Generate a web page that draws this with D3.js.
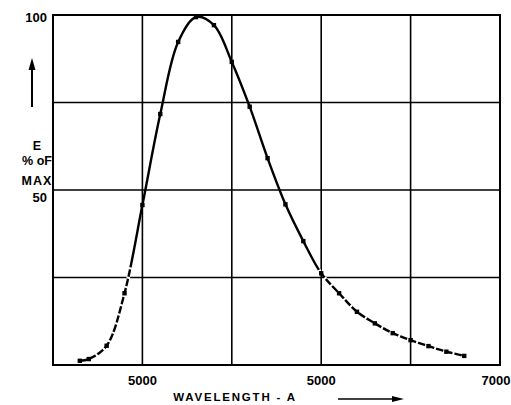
<!doctype html>
<html lang="en">
<head>
<meta charset="utf-8">
<title>E % of max vs wavelength</title>
<script src="https://d3js.org/d3.v7.min.js"></script>
<style>
  body { margin: 0; background: #fff; }
  text { font-family: "Liberation Sans", Arial, sans-serif; font-weight: bold; fill: #000; }
</style>
</head>
<body>
<div id="chart"></div>
<script>
// wavelength (A) and E (% of max)
var wavelength = [4650, 4700, 4800, 4900, 5000, 5100, 5200, 5300, 5400, 5500, 5600, 5700,
                  5800, 5900, 6000, 6100, 6200, 6300, 6400, 6500, 6600, 6700, 6800];
var percentMax = [1.2, 1.7, 5.5, 20.5, 45.7, 71.7, 92.3, 99.4, 97.1, 86.6, 73.8, 59.1,
                  45.9, 35.4, 26.2, 20.5, 15.2, 11.9, 9.1, 7.1, 5.4, 3.8, 2.6];

var xGrid = [5000, 5500, 6000, 6500];
var yGrid = [25, 50, 75];
var xTickValues = [5000, 6000, 7000];
var xTickLabels = ["5000", "5000", "7000"];   // as printed in the original
var yTickValues = [100, 50];
var yTickLabels = ["100", "50"];

var W = 511, H = 405;
var margin = {top: 15, right: 11, bottom: 40, left: 53};

var x = d3.scaleLinear().domain([4500, 7000]).range([margin.left, W - margin.right]);
var y = d3.scaleLinear().domain([0, 100]).range([H - margin.bottom, margin.top]);

var svg = d3.select("#chart").append("svg")
  .attr("width", W).attr("height", H);

// grid
svg.append("g").selectAll("line").data(xGrid).enter().append("line")
  .attr("x1", d => x(d)).attr("x2", d => x(d))
  .attr("y1", y(0)).attr("y2", y(100))
  .attr("stroke", "#000").attr("stroke-width", 1.6);
svg.append("g").selectAll("line").data(yGrid).enter().append("line")
  .attr("x1", x(4500)).attr("x2", x(7000))
  .attr("y1", d => y(d)).attr("y2", d => y(d))
  .attr("stroke", "#000").attr("stroke-width", 1.6);

// frame
svg.append("rect")
  .attr("x", x(4500)).attr("y", y(100))
  .attr("width", x(7000) - x(4500)).attr("height", y(0) - y(100))
  .attr("fill", "none").attr("stroke", "#000").attr("stroke-width", 2);

// tick labels
svg.append("g").selectAll("text").data(xTickValues).enter().append("text")
  .attr("x", d => x(d) + (d === 7000 ? -4 : 0))
  .attr("y", 385)
  .attr("text-anchor", "middle")
  .attr("font-size", 13)
  .text((d, i) => xTickLabels[i]);
svg.append("g").selectAll("text").data(yTickValues).enter().append("text")
  .attr("x", x(4500) - 6)
  .attr("y", d => y(d) + (d === 100 ? 7 : 12))
  .attr("text-anchor", "end")
  .attr("font-size", 13)
  .text((d, i) => yTickLabels[i]);

// y title
var yTitle = ["E", "% oF", "MAX"];
var yTitleY = [150, 165, 185];
svg.append("g").selectAll("text").data(yTitle).enter().append("text")
  .attr("x", 37)
  .attr("y", (d, i) => yTitleY[i])
  .attr("text-anchor", "middle")
  .attr("font-size", (d, i) => i === 1 ? 12.5 : 12.5)
  .attr("letter-spacing", (d, i) => i === 2 ? 1 : 0)
  .text(d => d);

// x title
svg.append("text")
  .attr("x", 235).attr("y", 401)
  .attr("text-anchor", "middle")
  .attr("font-size", 11.5)
  .attr("letter-spacing", 1.8)
  .text("WAVELENGTH - A");

// arrows
svg.append("line").attr("x1", 32).attr("x2", 32).attr("y1", 107).attr("y2", 66)
  .attr("stroke", "#000").attr("stroke-width", 2);
svg.append("path").attr("d", "M32,58 L28.5,70 L35.5,70 Z").attr("fill", "#000");
svg.append("line").attr("x1", 338).attr("x2", 394).attr("y1", 399).attr("y2", 399)
  .attr("stroke", "#000").attr("stroke-width", 1.6);
svg.append("path").attr("d", "M404,399 L392,396 L392,402 Z").attr("fill", "#000");

// curve
var pts = wavelength.map((w, i) => [w, percentMax[i]]);
var line = d3.line()
  .x(d => x(d[0])).y(d => y(d[1]))
  .curve(d3.curveCatmullRom.alpha(0.5));

svg.append("path").datum(pts)
  .attr("d", line)
  .attr("fill", "none").attr("stroke", "#000").attr("stroke-width", 2.4);

// white path that cuts small gaps into the low parts, like the printed dashes
var gaps = svg.append("path").datum(pts)
  .attr("d", line)
  .attr("fill", "none").attr("stroke", "#fff").attr("stroke-width", 3.6);

(function () {
  var p = gaps.node();
  var len = p.getTotalLength();
  var dash = 7, gap = 2.5, step = 0.5;
  var pattern = [], lastState = null, run = 0;
  for (var s = 0; s <= len; s += step) {
    var pt = p.getPointAtLength(s);
    var wantGap = pt.y > y(28) && (s % (dash + gap)) > dash;
    if (lastState === null) { lastState = wantGap; run = step; if (wantGap) pattern.push(0); }
    else if (wantGap === lastState) run += step;
    else { pattern.push(run); run = step; lastState = wantGap; }
  }
  pattern.push(run);
  if (pattern.length % 2 === 1) pattern.push(0);
  gaps.attr("stroke-dasharray", [0].concat(pattern).join(" "));
})();

svg.append("g").selectAll("rect").data(pts).enter().append("rect")
  .attr("x", d => x(d[0]) - 2.2).attr("y", d => y(d[1]) - 2.2)
  .attr("width", 4.4).attr("height", 4.4)
  .attr("fill", "#000");
</script>
</body>
</html>
